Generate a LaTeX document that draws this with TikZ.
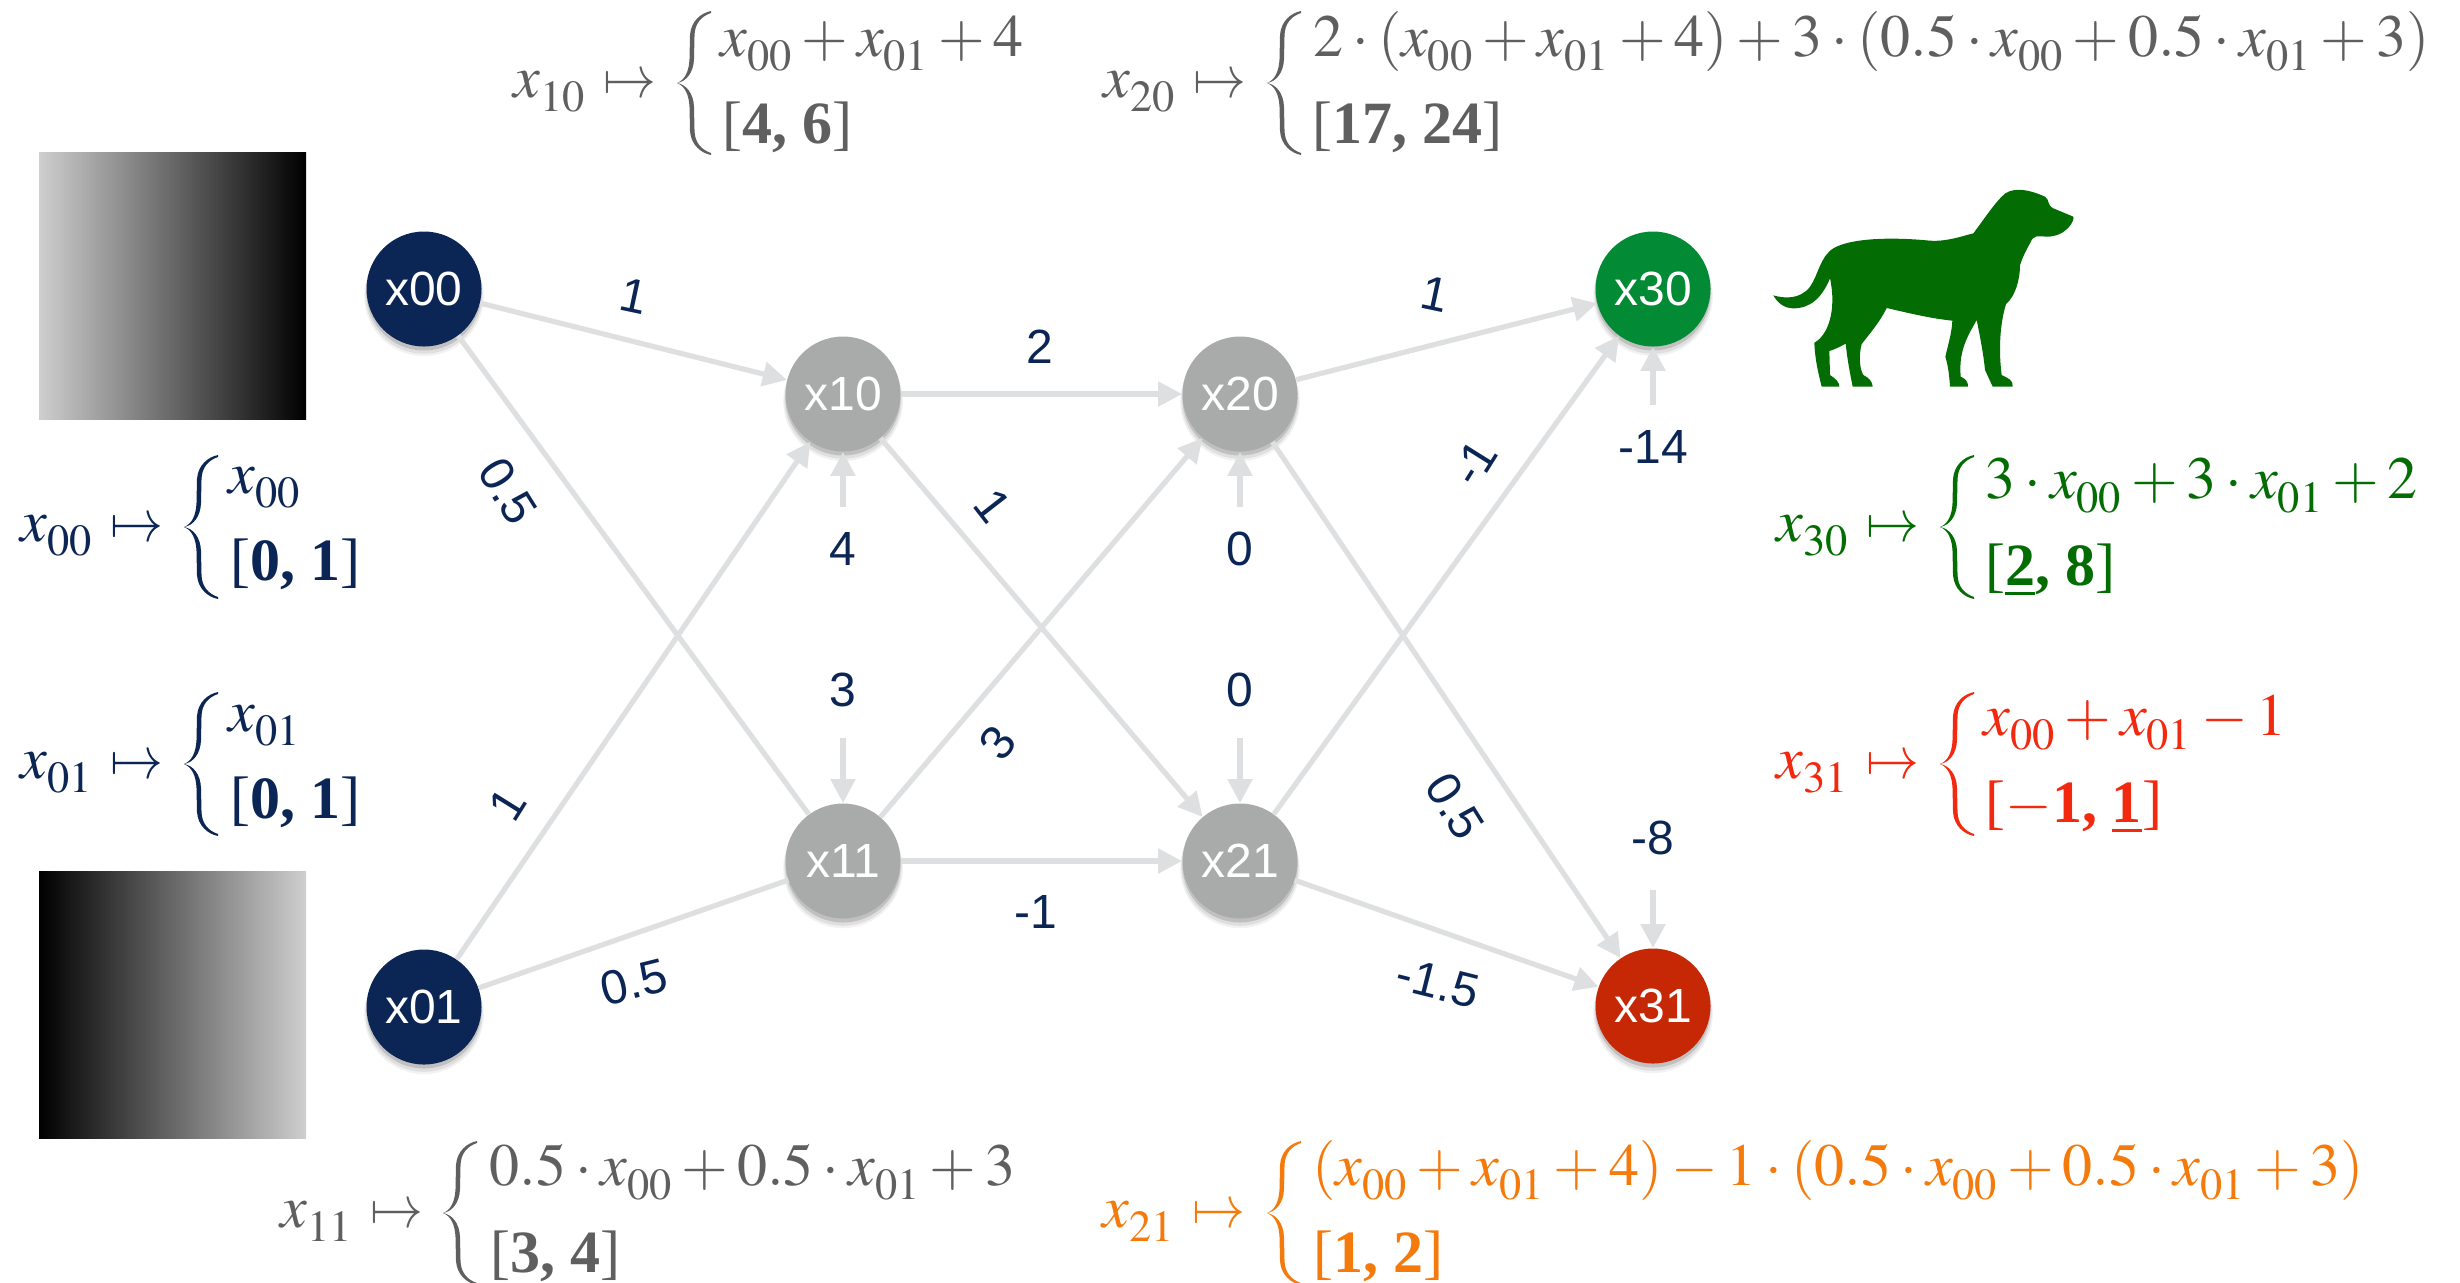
\documentclass[tikz,border=0pt]{standalone}
\usepackage{amsmath,mathptmx}
\usepackage{fontspec}
\setmainfont{Liberation Serif}
\setsansfont{Liberation Sans}
\usetikzlibrary{arrows.meta,shadows,calc}
\definecolor{navy}{HTML}{0B2555}
\definecolor{nodegray}{HTML}{A9ABAA}
\definecolor{edgegray}{HTML}{DEDFE1}
\definecolor{mygreen}{HTML}{036D03}
\definecolor{myred}{HTML}{F2290E}
\definecolor{nodered}{HTML}{C62806}
\definecolor{nodegreen}{HTML}{038A34}
\definecolor{myorange}{HTML}{F47A0C}
\definecolor{textgray}{HTML}{5F5F5F}
\newcommand{\mth}[1]{$\medmuskip=2.7mu #1$}
\newcommand{\X}[1]{x_{\raisebox{-2.5pt}{$\scriptstyle #1$}}}
\tikzset{
 softshadow/.style={
  general shadow={fill=black,opacity=.05,shadow yshift=-3.5pt,shadow scale=1.04},
  general shadow={fill=black,opacity=.08,shadow yshift=-3pt,shadow scale=1.02},
  general shadow={fill=black,opacity=.14,shadow yshift=-2pt,shadow scale=1.0}},
 nn/.style={circle,minimum size=57.5pt,inner sep=0pt,text=white,softshadow,
  font=\sffamily\fontsize{24}{28}\selectfont},
 plainedge/.style={draw=edgegray,line width=2.6pt},
 edge/.style={plainedge,-{Triangle[length=12pt,width=12pt]}},
 wt/.style={text=navy,font=\sffamily\fontsize{24}{28}\selectfont,inner sep=0pt},
 eqlabel/.style={anchor=base west,inner sep=0pt,font=\fontsize{30}{36}\selectfont},
 curly/.pic={
  \foreach \s in {1,-1}{
  \fill[yscale=\s] (0,0) .. controls (8,-3) and (12,-12) .. (12.5,-24) -- (13,-48)
    .. controls (14,-62) and (24,-70) .. (34,-72) -- (34,-70)
    .. controls (25,-67) and (17.5,-60) .. (17.5,-47) -- (17,-24)
    .. controls (16.5,-10) and (9,-1.5) .. (0,0) -- cycle;}
 },
}
% name, label x, brace tip x, centre y, top x, bottom x, top baseline, top line, bottom line
\newcommand{\eqblock}[9]{%
 \node[eqlabel] (lab#1) at ({#2},{#4+14}) {\mth{\X{#1}\mkern1.5mu\mathrel{\scalebox{0.88}[1]{$\mapsto$}}}};
 \path ({#3},{#4}) pic {curly};
 \node[eqlabel] (top#1) at ({#5},{#7}) {\mth{#8}};
 \node[eqlabel] (bot#1) at ({#6},{#7+87}) {#9};
}
\begin{document}
\begin{tikzpicture}[x=0.5pt,y=-0.5pt]
\useasboundingbox (0,0) rectangle (2460,1282);
% gradient squares
\path[left color=black!19,right color=black] (39,152) rectangle (306,419);
\path[left color=black,right color=black!19] (39,871) rectangle (306,1138);
% nodes
\node[nn,fill=navy] (x00) at (424,289) {x00};
\node[nn,fill=navy] (x01) at (424,1007) {x01};
\node[nn,fill=nodegray] (x10) at (843,394) {x10};
\node[nn,fill=nodegray] (x11) at (843,861) {x11};
\node[nn,fill=nodegray] (x20) at (1240,394) {x20};
\node[nn,fill=nodegray] (x21) at (1240,861) {x21};
\node[nn,fill=nodegreen] (x30) at (1653,289) {x30};
\node[nn,fill=nodered] (x31) at (1653,1006) {x31};
% edges
\foreach \a/\b in {x00/x10,x01/x10,x10/x20,x10/x21,x11/x20,x11/x21,x20/x30,x20/x31,x21/x30,x21/x31}
  \draw[edge] (\a) -- (\b);
\foreach \a/\b in {x00/x11,x01/x11}
  \draw[plainedge] (\a) -- (\b);
% bias free ends
\coordinate (b10) at (843,507);
\coordinate (b11) at (843,738);
\coordinate (b20) at (1240,507);
\coordinate (b21) at (1240,738);
\coordinate (b30) at (1653,405);
\coordinate (b31) at (1653,890);
\foreach \a/\b in {b10/x10,b11/x11,b20/x20,b21/x21,b30/x30,b31/x31}
  \draw[edge] (\a) -- (\b);
% weights
\node[wt,rotate=-12] (w1) at (634,296) {1};
\node[wt,rotate=-58] (w2) at (508,491) {0.5};
\node[wt,rotate=58] (w3) at (508,804) {1};
\node[wt,rotate=14] (w4) at (634,982) {0.5};
\node[wt] (w5) at (1040,347) {2};
\node[wt,rotate=-52] (w6) at (993,506) {1};
\node[wt,rotate=52] (w7) at (998,743) {3};
\node[wt] (w8) at (1036,912) {-1};
\node[wt,rotate=-12] (w9) at (1435,294) {1};
\node[wt,rotate=58] (w10) at (1474,463) {-1};
\node[wt,rotate=-58] (w11) at (1455,806) {0.5};
\node[wt,rotate=-14] (w12) at (1438,983) {-1.5};
\node[wt] (w13) at (843,549) {4};
\node[wt] (w14) at (843,690) {3};
\node[wt] (w15) at (1240,549) {0};
\node[wt] (w16) at (1240,690) {0};
\node[wt] (w17) at (1653,447) {-14};
\node[wt] (w18) at (1653,838) {-8};
% equations
\begin{scope}[color=navy]
\eqblock{00}{20}{184}{527}{228}{230}{493}{\X{00}}{[\textbf{0,~1}]}
\eqblock{01}{20}{184}{764}{228}{230}{731}{\X{01}}{[\textbf{0,~1}]}
\end{scope}
\begin{scope}[color=textgray]
\eqblock{10}{513}{677}{83}{720}{722}{56}{\X{00}+\X{01}+4}{[\textbf{4,~6}]}
\eqblock{20}{1103}{1267}{83}{1313}{1312}{56}{2\cdot(\X{00}+\X{01}+4)+3\cdot(0.5\cdot \X{00}+0.5\cdot \X{01}+3)}{[\textbf{17,~24}]}
\eqblock{11}{280}{443}{1213}{489}{490}{1185}{0.5\cdot \X{00}+0.5\cdot \X{01}+3}{[\textbf{3,~4}]}
\end{scope}
\begin{scope}[color=myorange]
\eqblock{21}{1102}{1267}{1213}{1312}{1313}{1185}{(\X{00}+\X{01}+4)-1\cdot(0.5\cdot \X{00}+0.5\cdot \X{01}+3)}{[\textbf{1,~2}]}
\end{scope}
\begin{scope}[color=mygreen]
\eqblock{30}{1776}{1940}{527}{1985}{1985}{498}{3\cdot \X{00}+3\cdot \X{01}+2}{[\textbf{\underline{2},~8}]}
\end{scope}
\begin{scope}[color=myred]
\eqblock{31}{1776}{1940}{764}{1983}{1985}{735}{\X{00}+\X{01}-1}{[$-$\textbf{1,~\underline{1}}]}
\end{scope}
% dog
\begin{scope}[shift={(1750,170)},x=0.16667pt,y=-0.16667pt]
\fill[mygreen] (70,376) .. controls (100,385) and (150,390) .. (180,350)
 .. controls (205,315) and (210,260) .. (250,235)
 .. controls (300,205) and (420,200) .. (540,212)
 .. controls (590,215) and (630,200) .. (670,190)
 .. controls (700,150) and (730,105) .. (755,80)
 .. controls (780,50) and (830,55) .. (885,80)
 .. controls (900,90) and (890,105) .. (910,115)
 -- (970,140) .. controls (975,150) and (950,200) .. (890,200)
 .. controls (860,198) and (850,195) .. (840,220)
 .. controls (825,245) and (815,270) .. (810,285)
 .. controls (810,330) and (795,380) .. (768,402)
 .. controls (750,460) and (745,540) .. (755,615)
 .. controls (775,625) and (790,630) .. (788,650)
 -- (728,650) -- (705,600) .. controls (700,550) and (690,500) .. (680,450)
 .. controls (655,495) and (625,540) .. (632,620)
 .. controls (645,625) and (655,635) .. (654,650)
 -- (600,650) .. controls (598,620) and (595,590) .. (586,560)
 .. controls (595,520) and (605,490) .. (607,452)
 .. controls (540,445) and (480,430) .. (410,414)
 .. controls (390,455) and (360,490) .. (335,522)
 .. controls (325,560) and (330,600) .. (340,615)
 .. controls (355,622) and (368,635) .. (368,650)
 -- (308,650) .. controls (300,610) and (292,570) .. (287,521)
 .. controls (270,530) and (255,538) .. (238,543)
 -- (240,615) .. controls (255,625) and (268,635) .. (268,650)
 -- (215,650) .. controls (205,610) and (195,570) .. (193,518)
 .. controls (235,495) and (260,420) .. (240,325)
 .. controls (215,385) and (180,415) .. (130,415)
 .. controls (100,415) and (80,395) .. (70,376) -- cycle;
\end{scope}
\end{tikzpicture}
\end{document}
